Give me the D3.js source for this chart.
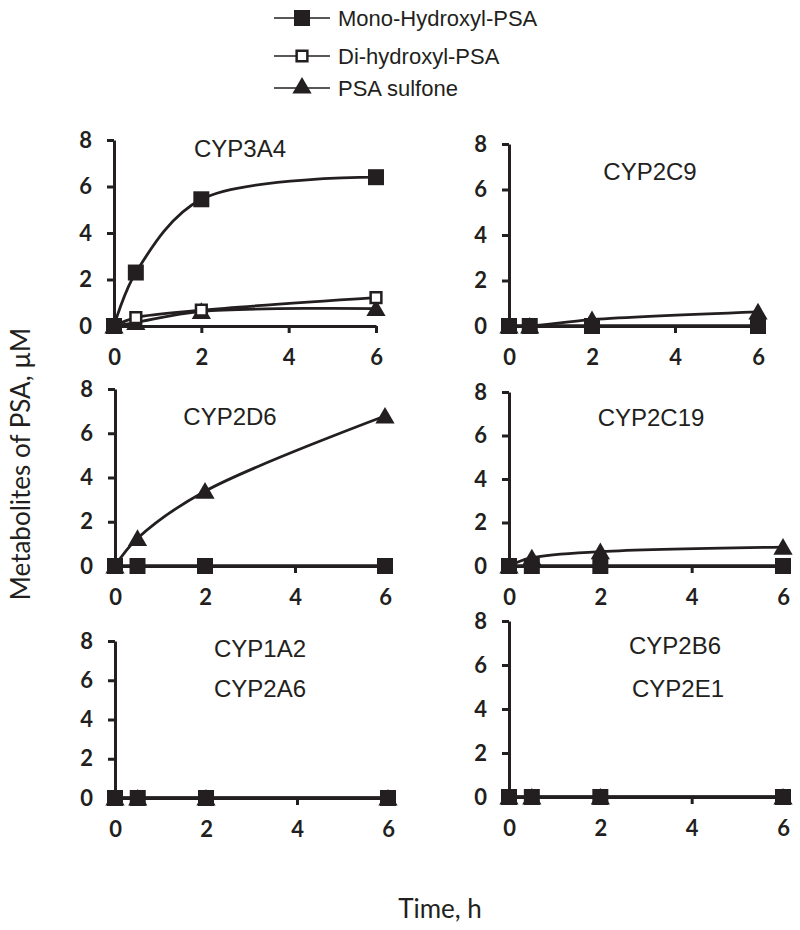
<!DOCTYPE html>
<html><head><meta charset="utf-8">
<script src="https://cdn.jsdelivr.net/npm/d3@7"></script>
<style>body{margin:0;background:#fff}</style>
</head><body>
<svg id="c" width="800" height="930"></svg>
<script>
// ---- data ----
const times = [0, 0.5, 2, 6];
const panelTitles = [["CYP3A4"], ["CYP2C9"], ["CYP2D6"], ["CYP2C19"], ["CYP1A2", "CYP2A6"], ["CYP2B6", "CYP2E1"]];
const monoHydroxyl = [[0, 2.3, 5.45, 6.4], [0, 0, 0, 0], [0, 0, 0, 0], [0, 0, 0, 0], [0, 0, 0, 0], [0, 0, 0, 0]];
const diHydroxyl   = [[0, 0.36, 0.68, 1.22], [0, 0, 0, 0], [0, 0, 0, 0], [0, 0, 0, 0], [0, 0, 0, 0], [0, 0, 0, 0]];
const psaSulfone   = [[0, 0.15, 0.63, 0.75], [0, 0, 0.28, 0.62], [0, 1.25, 3.38, 6.78], [0, 0.38, 0.66, 0.87], [0, 0, 0, 0], [0, 0, 0, 0]];
const seriesNames = ["Mono-Hydroxyl-PSA", "Di-hydroxyl-PSA", "PSA sulfone"];
const xTicks = [0, 2, 4, 6];
const yTicks = [0, 2, 4, 6, 8];

// ---- layout (pixel frames of each panel) ----
const frames = [
  {x0: 114, x1: 376, yTop: 140, yBot: 326, title: [{x: 240, y: 157}]},
  {x0: 509, x1: 758, yTop: 144, yBot: 326, title: [{x: 650, y: 180}]},
  {x0: 115, x1: 385, yTop: 389, yBot: 566, title: [{x: 230, y: 425}]},
  {x0: 509, x1: 783, yTop: 392, yBot: 566, title: [{x: 651, y: 426}]},
  {x0: 115, x1: 388, yTop: 641, yBot: 798, title: [{x: 260, y: 657}, {x: 260, y: 697}]},
  {x0: 509, x1: 783, yTop: 621, yBot: 797, title: [{x: 675, y: 654}, {x: 678, y: 697}]}
];

const svg = d3.select("#c");
const tickFont = "Lato, 'Open Sans', sans-serif";
const sqFilled = d3.symbol().type(d3.symbolSquare).size(256);
const sqOpen = d3.symbol().type(d3.symbolSquare).size(115);
const tri = d3.symbol().type(d3.symbolTriangle).size(160);

function drawMarker(g, kind, x, y) {
  if (kind === 0) g.append("path").attr("d", sqFilled()).attr("transform", `translate(${x},${y})`).attr("fill", "#231f20");
  else if (kind === 1) g.append("path").attr("d", sqOpen()).attr("transform", `translate(${x},${y})`).attr("fill", "#fff").attr("stroke", "#231f20").attr("stroke-width", 2.5);
  else g.append("path").attr("d", tri()).attr("transform", `translate(${x},${y + 2})`).attr("fill", "#231f20");
}

frames.forEach((f, i) => {
  const x = d3.scaleLinear().domain([0, 6]).range([f.x0, f.x1]);
  const y = d3.scaleLinear().domain([0, 8]).range([f.yBot, f.yTop]);
  const g = svg.append("g");

  const xa = g.append("g").attr("transform", `translate(0,${f.yBot})`)
    .call(d3.axisBottom(x).tickValues(xTicks).tickSize(7).tickSizeOuter(0).tickPadding(16).tickFormat(d3.format("d")));
  const ya = g.append("g").attr("transform", `translate(${f.x0},0)`)
    .call(d3.axisLeft(y).tickValues(yTicks).tickSize(7).tickSizeOuter(0).tickPadding(15).tickFormat(d3.format("d")));
  [xa, ya].forEach(a => {
    a.select(".domain").attr("stroke", "#231f20").attr("stroke-width", 3);
    a.selectAll(".tick line").attr("stroke", "#231f20").attr("stroke-width", 3);
    a.selectAll(".tick text").attr("fill", "#231f20").style("font-family", tickFont).style("font-weight", "bold").style("font-size", "22px");
  });

  const line = d3.line().x((d, k) => x(times[k])).y(d => y(d)).curve(d3.curveCatmullRom.alpha(0.5));
  const series = [psaSulfone[i], diHydroxyl[i], monoHydroxyl[i]];
  const kinds = [2, 1, 0];
  series.forEach(vals => {
    g.append("path").attr("d", line(vals)).attr("fill", "none").attr("stroke", "#231f20").attr("stroke-width", 2.8);
  });
  series.forEach((vals, s) => {
    vals.forEach((v, k) => drawMarker(g, kinds[s], x(times[k]), y(v)));
  });

  panelTitles[i].forEach((t, j) => {
    g.append("text").attr("x", f.title[j].x).attr("y", f.title[j].y).attr("text-anchor", "middle")
      .style("font-family", "'Liberation Sans', Arial, sans-serif").style("font-size", "24px").attr("fill", "#231f20").text(t);
  });
});

// legend
const leg = svg.append("g");
const legY = [18, 56, 88];
seriesNames.forEach((name, s) => {
  leg.append("line").attr("x1", 274).attr("x2", 330).attr("y1", legY[s]).attr("y2", legY[s]).attr("stroke", "#231f20").attr("stroke-width", 1.5);
  drawMarker(leg, s, 302, legY[s] - (s === 2 ? 2 : 0));
  leg.append("text").attr("x", 338).attr("y", legY[s] + 8).style("font-family", "'Liberation Sans', Arial, sans-serif")
    .style("font-size", "22px").attr("fill", "#231f20").text(name);
});

// axis titles
svg.append("text").attr("transform", "translate(30,464) rotate(-90)").attr("text-anchor", "middle")
  .style("font-family", tickFont).style("font-size", "26px").attr("fill", "#231f20").text("Metabolites of PSA, µM");
svg.append("text").attr("x", 440).attr("y", 918).attr("text-anchor", "middle")
  .style("font-family", tickFont).style("font-size", "26px").attr("fill", "#231f20").text("Time, h");
</script>
</body></html>
